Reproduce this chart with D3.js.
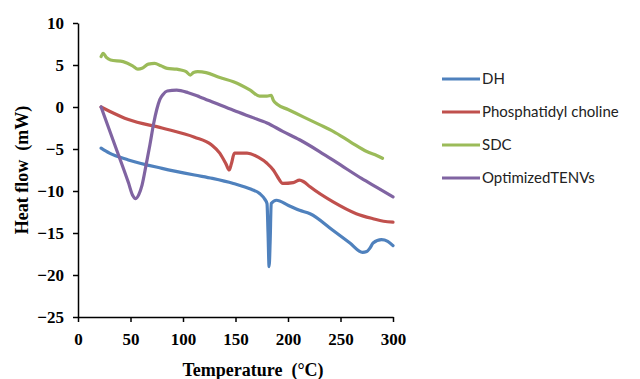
<!DOCTYPE html>
<html>
<head>
<meta charset="utf-8">
<script src="https://cdn.jsdelivr.net/npm/d3@7"></script>
<style>
  body { margin: 0; background: #fff; }
  .axis path, .axis line { stroke: #000; stroke-width: 1.5; }
  .axis text { font-family: "Liberation Serif", serif; font-weight: bold; font-size: 17px; fill: #000; }
  .title { font-family: "Liberation Serif", serif; font-weight: bold; font-size: 18px; fill: #000; white-space: pre; }
  .legend text { font-family: Lato, sans-serif; font-size: 15px; fill: #222; }
</style>
</head>
<body>
<div id="chart"></div>
<script>
// series: [temperature, heat flow]
const dh = [[22,-4.9],[30,-5.5],[48,-6.3],[80,-7.3],[111,-8.1],[128,-8.5],[148,-9.1],[165,-9.8],[173,-10.3],[178,-11.0],[180,-11.5],
  [181,-15],[182,-19],[183,-16],[184,-11.5],[189,-11.1],[200,-11.7],[211,-12.3],[221,-12.7],[243,-14.7],[259,-16.2],[271,-17.3],
  [275,-17.2],[278,-16.8],[281,-16.2],[289,-15.8],[295,-16.0],[300,-16.5]];
const pc = [[22,0],[30,-0.5],[48,-1.5],[80,-2.5],[111,-3.6],[127,-4.5],[135,-5.5],[141,-6.8],[144,-7.5],[146,-6.8],[149,-5.5],
  [161,-5.5],[172,-6.0],[180,-6.7],[186,-7.5],[190,-8.3],[195,-9.1],[205,-9.0],[211,-8.7],[215,-8.9],[221,-9.5],[243,-11.3],
  [265,-12.7],[281,-13.3],[291,-13.6],[300,-13.7]];
const sdc = [[22,6.0],[24,6.4],[27,5.9],[31,5.6],[43,5.4],[52,4.9],[57,4.5],[61,4.6],[67,5.1],[73,5.2],[79,4.9],[85,4.6],[94,4.5],
  [98,4.4],[103,4.2],[107,3.8],[110,4.1],[114,4.2],[122,4.1],[135,3.5],[148,3.0],[164,2.0],[173,1.3],[180,1.3],[184,1.4],
  [186,0.8],[190,0.3],[200,-0.3],[215,-1.2],[230,-2.1],[243,-2.9],[260,-4.2],[275,-5.3],[285,-5.8],[290,-6.1]];
const tenv = [[22,0],[35,-4.5],[48,-9.0],[52,-10.5],[55,-10.9],[58,-10.4],[61,-9.3],[65,-6.8],[68.5,-4.5],[72,-2.0],
  [75,-0.3],[78,0.9],[81,1.5],[85,1.9],[94,2.0],[105,1.7],[116,1.2],[130,0.5],[148,-0.4],[165,-1.2],[180,-1.9],[195,-2.9],
  [211,-3.9],[230,-5.3],[250,-6.9],[270,-8.5],[285,-9.6],[300,-10.7]];

const seriesNames = ["DH", "Phosphatidyl choline", "SDC", "OptimizedTENVs"];
const seriesColors = ["#4F81BD", "#C0504D", "#9BBB59", "#8064A2"];
const seriesData = [dh, pc, sdc, tenv];

const xTicks = [0, 50, 100, 150, 200, 250, 300];
const yTicks = [-25, -20, -15, -10, -5, 0, 5, 10];

const width = 640, height = 379;
const svg = d3.select("#chart").append("svg")
  .attr("width", width)
  .attr("height", height);

const x = d3.scaleLinear().domain([0, 300]).range([78, 393]);
const y = d3.scaleLinear().domain([-25, 10]).range([317, 23]);

svg.append("g")
  .attr("class", "axis")
  .attr("transform", "translate(" + x(0) + ",0)")
  .call(d3.axisLeft(y).tickValues(yTicks).tickSize(5).tickSizeOuter(0).tickPadding(9));

svg.append("g")
  .attr("class", "axis")
  .attr("transform", "translate(0," + y(-25) + ")")
  .call(d3.axisBottom(x).tickValues(xTicks).tickSize(5).tickSizeOuter(0).tickPadding(11));

svg.append("text")
  .attr("class", "title")
  .attr("x", 253)
  .attr("y", 376)
  .attr("text-anchor", "middle")
  .text("Temperature  (°C)");

svg.append("text")
  .attr("class", "title")
  .attr("transform", "translate(28,170) rotate(-90)")
  .attr("text-anchor", "middle")
  .text("Heat flow  (mW)");

const line = d3.line()
  .x(d => x(d[0]))
  .y(d => y(d[1]))
  .curve(d3.curveMonotoneX);

svg.append("g")
  .selectAll("path")
  .data(seriesData)
  .join("path")
    .attr("d", line)
    .attr("fill", "none")
    .attr("stroke", (d, i) => seriesColors[i])
    .attr("stroke-width", 3.2)
    .attr("stroke-linejoin", "round")
    .attr("stroke-linecap", "round");

const legend = svg.append("g")
  .attr("class", "legend")
  .selectAll("g")
  .data(seriesNames)
  .join("g")
    .attr("transform", (d, i) => "translate(442," + (79 + i * 33) + ")");

legend.append("line")
  .attr("x1", 0).attr("x2", 38)
  .attr("stroke", (d, i) => seriesColors[i])
  .attr("stroke-width", 3);

legend.append("text")
  .attr("x", 40)
  .attr("dy", "0.35em")
  .text(d => d);
</script>
</body>
</html>
